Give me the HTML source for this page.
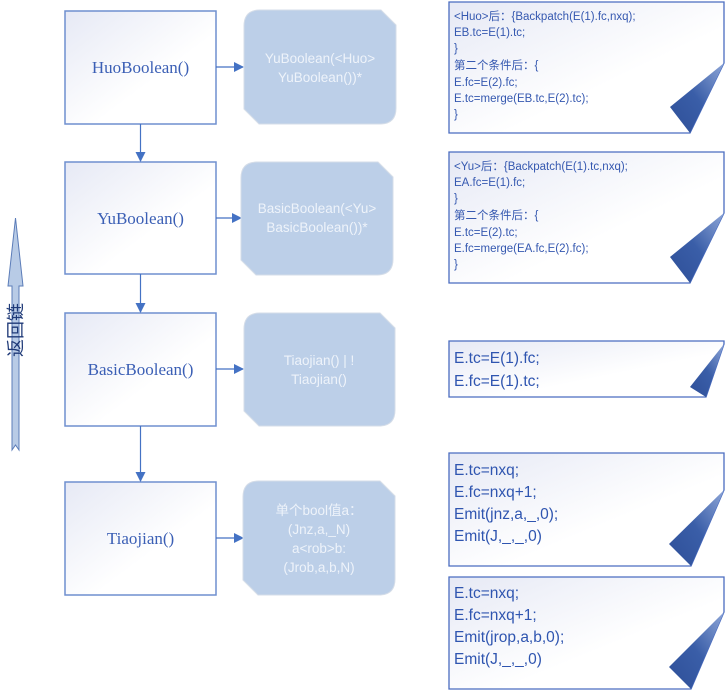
<!DOCTYPE html>
<html><head><meta charset="utf-8"><style>
html,body{margin:0;padding:0;background:#fff;}
svg{display:block;}
.ser{font-family:"Liberation Serif","Noto Serif CJK SC",serif;font-size:17px;fill:#3b5fb5;}
.mid{font-family:"Liberation Sans","Noto Sans CJK SC",sans-serif;font-size:13.5px;fill:#eef3fa;}
.n1{font-family:"Liberation Sans","Noto Sans CJK SC",sans-serif;font-size:11.5px;fill:#3558b0;}
.n2{font-family:"Liberation Sans","Noto Sans CJK SC",sans-serif;font-size:15.5px;fill:#2f55b0;}
</style></head><body>
<svg width="726" height="691" viewBox="0 0 726 691" xmlns="http://www.w3.org/2000/svg">
<defs>
<linearGradient id="g" x1="0" y1="0" x2="1" y2="1"><stop offset="0" stop-color="#e6e9f5"/><stop offset="0.6" stop-color="#fff"/></linearGradient>
<linearGradient id="t" x1="1" y1="0" x2="0" y2="1"><stop offset="0" stop-color="#8ea6d8"/><stop offset="0.5" stop-color="#3a5ea8"/><stop offset="1" stop-color="#2e4f98"/></linearGradient>
<marker id="ah" markerWidth="10" markerHeight="10" refX="9" refY="5" orient="auto" markerUnits="userSpaceOnUse"><path d="M0,0 L10,5 L0,10 z" fill="#4472c4"/></marker>
</defs>
<path d="M15.5,218 L23,286 L19,286 L19,450 L15.5,445 L12,450 L12,286 L8,286 Z" fill="#b8cbe6" stroke="#5b7cb8" stroke-width="1"/>
<text transform="translate(22,330) rotate(-90)" text-anchor="middle" font-family="Liberation Sans,Noto Sans CJK SC,sans-serif" font-size="18" fill="#1f3a78">返回链</text>
<g stroke="#6f8fcf" stroke-width="1.5" fill="url(#g)">
<rect x="65" y="11" width="151" height="113"/>
<rect x="65" y="162" width="151" height="112"/>
<rect x="65" y="313" width="151" height="113"/>
<rect x="65" y="482" width="151" height="113"/>
</g>
<text class="ser" x="140.5" y="73" text-anchor="middle">HuoBoolean()</text>
<text class="ser" x="140.5" y="224" text-anchor="middle">YuBoolean()</text>
<text class="ser" x="140.5" y="375" text-anchor="middle">BasicBoolean()</text>
<text class="ser" x="140.5" y="544" text-anchor="middle">Tiaojian()</text>
<g stroke="#4472c4" stroke-width="1.2" fill="none">
<line x1="140.5" y1="124" x2="140.5" y2="161" marker-end="url(#ah)"/>
<line x1="140.5" y1="274" x2="140.5" y2="312" marker-end="url(#ah)"/>
<line x1="140.5" y1="426" x2="140.5" y2="481" marker-end="url(#ah)"/>
<line x1="216" y1="67" x2="243" y2="67" marker-end="url(#ah)"/>
<line x1="216" y1="218" x2="241" y2="218" marker-end="url(#ah)"/>
<line x1="216" y1="369" x2="243" y2="369" marker-end="url(#ah)"/>
<line x1="216" y1="538" x2="243" y2="538" marker-end="url(#ah)"/>
</g>
<g fill="#bccfe8" stroke="#d5dde8" stroke-width="1">
<path d="M260,10 L381,10 L396,25 L396,108 Q396,124 380,124 L259,124 L244,109 L244,26 Q244,10 260,10 Z"/>
<path d="M257,162 L378,162 L393,177 L393,259 Q393,275 377,275 L256,275 L241,260 L241,178 Q241,162 257,162 Z"/>
<path d="M260,313 L380,313 L395,328 L395,410 Q395,426 379,426 L259,426 L244,411 L244,329 Q244,313 260,313 Z"/>
<path d="M259,481 L380,481 L395,496 L395,579 Q395,595 379,595 L258,595 L243,580 L243,497 Q243,481 259,481 Z"/>
</g>
<text class="mid" x="320" y="63" text-anchor="middle">YuBoolean(&lt;Huo&gt;</text>
<text class="mid" x="320" y="82" text-anchor="middle">YuBoolean())*</text>
<text class="mid" x="317" y="213" text-anchor="middle">BasicBoolean(&lt;Yu&gt;</text>
<text class="mid" x="317" y="232" text-anchor="middle">BasicBoolean())*</text>
<text class="mid" x="319" y="365" text-anchor="middle">Tiaojian() | !</text>
<text class="mid" x="319" y="384" text-anchor="middle">Tiaojian()</text>
<text class="mid" x="319" y="515" text-anchor="middle">单个bool值a：</text>
<text class="mid" x="319" y="534" text-anchor="middle">(Jnz,a,_N)</text>
<text class="mid" x="319" y="553" text-anchor="middle">a&lt;rob&gt;b:</text>
<text class="mid" x="319" y="572" text-anchor="middle">(Jrob,a,b,N)</text>
<g stroke="#4a6cc0" stroke-width="1.3" fill="url(#g)">
<path d="M449,2 L724,2 L724,63 L690,133 L449,133 Z"/>
<path d="M449,152 L724,152 L724,213 L690,283 L449,283 Z"/>
<path d="M449,341 L724,341 L724,344 L706,397 L449,397 Z"/>
<path d="M449,453 L724,453 L724,490 L691,566 L449,566 Z"/>
<path d="M449,577 L724,577 L724,612 L691,689 L449,689 Z"/>
</g>
<g fill="url(#t)">
<path d="M724,63 L670,107 L690,133 Z"/>
<path d="M724,213 L670,257 L690,283 Z"/>
<path d="M724,344 L690,387 L706,397 Z"/>
<path d="M724,490 L669,544 L691,566 Z"/>
<path d="M724,612 L669,667 L691,689 Z"/>
</g>
<g class="n1">
<text x="454" y="20">&lt;Huo&gt;后：{Backpatch(E(1).fc,nxq);</text>
<text x="454" y="36">EB.tc=E(1).tc;</text>
<text x="454" y="52">}</text>
<text x="454" y="69">第二个条件后：{</text>
<text x="454" y="86">E.fc=E(2).fc;</text>
<text x="454" y="102">E.tc=merge(EB.tc,E(2).tc);</text>
<text x="454" y="118">}</text>
<text x="454" y="170">&lt;Yu&gt;后：{Backpatch(E(1).tc,nxq);</text>
<text x="454" y="186">EA.fc=E(1).fc;</text>
<text x="454" y="202">}</text>
<text x="454" y="219">第二个条件后：{</text>
<text x="454" y="236">E.tc=E(2).tc;</text>
<text x="454" y="252">E.fc=merge(EA.fc,E(2).fc);</text>
<text x="454" y="268">}</text>
</g>
<g class="n2">
<text x="454" y="363">E.tc=E(1).fc;</text>
<text x="454" y="386">E.fc=E(1).tc;</text>
<text x="454" y="475">E.tc=nxq;</text>
<text x="454" y="497">E.fc=nxq+1;</text>
<text x="454" y="519">Emit(jnz,a,_,0);</text>
<text x="454" y="541">Emit(J,_,_,0)</text>
<text x="454" y="598">E.tc=nxq;</text>
<text x="454" y="620">E.fc=nxq+1;</text>
<text x="454" y="642">Emit(jrop,a,b,0);</text>
<text x="454" y="664">Emit(J,_,_,0)</text>
</g>
</svg>
</body></html>
